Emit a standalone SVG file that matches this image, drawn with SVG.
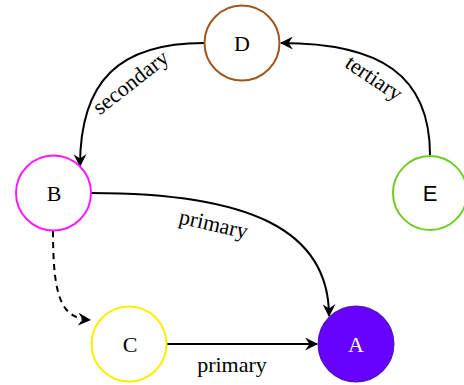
<svg xmlns="http://www.w3.org/2000/svg" width="464" height="385" viewBox="0 0 464 385">
<style>
.n{stroke-width:2;fill:#fff}
.t{font-family:"Liberation Serif",serif;font-size:22px;text-anchor:middle;dominant-baseline:central}
.l{font-family:"Liberation Serif",serif;font-size:22px;text-anchor:middle}
.e{fill:none;stroke:#000;stroke-width:2;marker-end:url(#ah)}
</style>
<defs>
<marker id="ah" viewBox="0 0 12 12" refX="11" refY="6" markerWidth="13" markerHeight="13" markerUnits="userSpaceOnUse" orient="auto">
<path d="M0,0 L12,6 L0,12 L4,6 Z" fill="#000"/>
</marker>
</defs>
<g id="edges">
<path class="e" d="M204,43 C120,43 80,80 80,166"/>
<path class="e" d="M430,155 C430,75 380,43 281,43"/>
<path class="e" d="M91,193 C250,193 329,230 329,316"/>
<path class="e" d="M53,231 C53,300 62,318 90,320" stroke-dasharray="6,5"/>
<path class="e" d="M167,344 L317,344"/>
<text class="l" transform="translate(135,88) rotate(-38)">secondary</text>
<text class="l" transform="translate(370,84) rotate(34)">tertiary</text>
<text class="l" transform="translate(212,231) rotate(13)">primary</text>
<text class="l" x="232" y="372">primary</text>
</g>
<g id="D"><circle class="n" cx="242" cy="43" r="37.5" stroke="#a0561c"/><text class="t" x="242" y="43">D</text></g>
<g id="E"><circle class="n" cx="430" cy="193" r="37" stroke="#6fcc22"/><text class="t" x="430" y="193" style="font-family:'Liberation Sans',sans-serif">E</text></g>
<g id="B"><circle class="n" cx="53.5" cy="193" r="37.5" stroke="#ff1aff"/><text class="t" x="54" y="193">B</text></g>
<g id="C"><circle class="n" cx="129" cy="344" r="37.5" stroke="#ffee00"/><text class="t" x="130" y="344">C</text></g>
<g id="A"><circle cx="356" cy="344" r="37.5" fill="#6600ff" stroke="#5a11cc" stroke-width="2"/><text class="t" x="356" y="344" fill="#fff">A</text></g>
</svg>
